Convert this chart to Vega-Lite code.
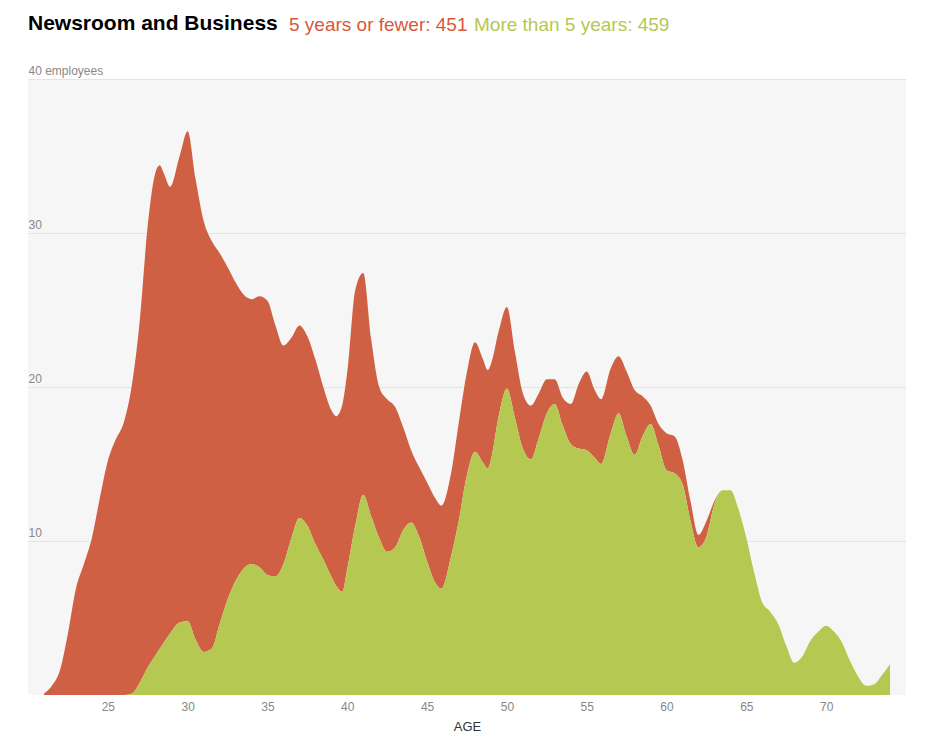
{
  "$schema": "https://vega.github.io/schema/vega-lite/v6.json",
  "width": 878,
  "height": 616,
  "autosize": "none",
  "padding": {"left": 28, "top": 79, "right": 34, "bottom": 59},
  "background": "#ffffff",
  "title": {
    "text": "Newsroom and Business",
    "anchor": "start",
    "frame": "group",
    "font": "Liberation Sans",
    "fontSize": 21,
    "fontWeight": "bold",
    "color": "#000000",
    "offset": 0,
    "dy": 19
  },
  "data": {
    "values": [
      {"age": 21, "fewer5": 0.1, "more5": 0},
      {"age": 21.5, "fewer5": 0.6, "more5": 0},
      {"age": 22, "fewer5": 1.6, "more5": 0},
      {"age": 22.5, "fewer5": 4.0, "more5": 0},
      {"age": 23, "fewer5": 6.9, "more5": 0},
      {"age": 23.5, "fewer5": 8.5, "more5": 0},
      {"age": 24, "fewer5": 10.2, "more5": 0},
      {"age": 24.5, "fewer5": 12.8, "more5": 0},
      {"age": 25, "fewer5": 15.2, "more5": 0},
      {"age": 25.5, "fewer5": 16.6, "more5": 0},
      {"age": 26, "fewer5": 17.7, "more5": 0},
      {"age": 26.5, "fewer5": 20.0, "more5": 0.1},
      {"age": 27, "fewer5": 23.5, "more5": 0.8},
      {"age": 27.5, "fewer5": 28.7, "more5": 1.8},
      {"age": 28, "fewer5": 31.4, "more5": 2.6},
      {"age": 28.25, "fewer5": 31.4, "more5": 3.0},
      {"age": 28.5, "fewer5": 30.5, "more5": 3.4},
      {"age": 28.9, "fewer5": 29.0, "more5": 4.0},
      {"age": 29.5, "fewer5": 30.3, "more5": 4.7},
      {"age": 30, "fewer5": 31.8, "more5": 4.8},
      {"age": 30.5, "fewer5": 29.9, "more5": 3.6},
      {"age": 31, "fewer5": 28.0, "more5": 2.8},
      {"age": 31.5, "fewer5": 26.5, "more5": 3.0},
      {"age": 32, "fewer5": 24.1, "more5": 4.6},
      {"age": 32.5, "fewer5": 21.6, "more5": 6.2},
      {"age": 33, "fewer5": 19.4, "more5": 7.4},
      {"age": 33.5, "fewer5": 17.8, "more5": 8.2},
      {"age": 34, "fewer5": 17.2, "more5": 8.5},
      {"age": 34.5, "fewer5": 17.6, "more5": 8.3},
      {"age": 35, "fewer5": 17.8, "more5": 7.8},
      {"age": 35.5, "fewer5": 16.3, "more5": 7.7},
      {"age": 36, "fewer5": 14.2, "more5": 8.5},
      {"age": 36.5, "fewer5": 13.0, "more5": 10.2},
      {"age": 37, "fewer5": 12.5, "more5": 11.5},
      {"age": 37.5, "fewer5": 12.3, "more5": 11.0},
      {"age": 38, "fewer5": 12.0, "more5": 9.8},
      {"age": 38.5, "fewer5": 11.2, "more5": 8.8},
      {"age": 39, "fewer5": 10.8, "more5": 7.7},
      {"age": 39.3, "fewer5": 11.0, "more5": 7.1},
      {"age": 39.7, "fewer5": 12.2, "more5": 6.7},
      {"age": 40, "fewer5": 12.8, "more5": 8.2},
      {"age": 40.5, "fewer5": 15.3, "more5": 11.0},
      {"age": 41, "fewer5": 14.4, "more5": 13.0},
      {"age": 41.5, "fewer5": 11.5, "more5": 11.6},
      {"age": 42, "fewer5": 9.8, "more5": 10.2},
      {"age": 42.5, "fewer5": 9.9, "more5": 9.3},
      {"age": 43, "fewer5": 9.1, "more5": 9.6},
      {"age": 43.5, "fewer5": 6.7, "more5": 10.7},
      {"age": 44, "fewer5": 4.7, "more5": 11.2},
      {"age": 44.5, "fewer5": 4.5, "more5": 10.3},
      {"age": 45, "fewer5": 5.1, "more5": 8.7},
      {"age": 45.5, "fewer5": 5.5, "more5": 7.3},
      {"age": 45.9, "fewer5": 5.4, "more5": 6.9},
      {"age": 46.5, "fewer5": 5.4, "more5": 9.0},
      {"age": 47, "fewer5": 6.4, "more5": 11.4},
      {"age": 47.5, "fewer5": 6.7, "more5": 14.3},
      {"age": 48, "fewer5": 7.1, "more5": 15.8},
      {"age": 48.5, "fewer5": 6.7, "more5": 15.1},
      {"age": 48.8, "fewer5": 6.4, "more5": 14.7},
      {"age": 49, "fewer5": 6.2, "more5": 15.3},
      {"age": 49.5, "fewer5": 5.5, "more5": 18.2},
      {"age": 50, "fewer5": 5.3, "more5": 19.9},
      {"age": 50.5, "fewer5": 4.3, "more5": 18.0},
      {"age": 51, "fewer5": 3.6, "more5": 16.0},
      {"age": 51.5, "fewer5": 3.5, "more5": 15.3},
      {"age": 52, "fewer5": 2.9, "more5": 16.7},
      {"age": 52.5, "fewer5": 2.2, "more5": 18.3},
      {"age": 53, "fewer5": 1.6, "more5": 18.9},
      {"age": 53.5, "fewer5": 1.8, "more5": 17.5},
      {"age": 54, "fewer5": 2.6, "more5": 16.3},
      {"age": 54.5, "fewer5": 4.2, "more5": 16.0},
      {"age": 55, "fewer5": 5.1, "more5": 15.9},
      {"age": 55.5, "fewer5": 4.4, "more5": 15.4},
      {"age": 55.9, "fewer5": 4.2, "more5": 15.0},
      {"age": 56.5, "fewer5": 4.2, "more5": 17.0},
      {"age": 57, "fewer5": 3.7, "more5": 18.3},
      {"age": 57.5, "fewer5": 4.2, "more5": 16.8},
      {"age": 58, "fewer5": 4.2, "more5": 15.6},
      {"age": 58.5, "fewer5": 2.6, "more5": 16.8},
      {"age": 59, "fewer5": 1.2, "more5": 17.6},
      {"age": 59.5, "fewer5": 1.4, "more5": 16.2},
      {"age": 60, "fewer5": 2.4, "more5": 14.6},
      {"age": 60.5, "fewer5": 2.4, "more5": 14.4},
      {"age": 61, "fewer5": 1.6, "more5": 13.7},
      {"age": 61.5, "fewer5": 1.3, "more5": 11.3},
      {"age": 62, "fewer5": 0.8, "more5": 9.6},
      {"age": 62.5, "fewer5": 1.0, "more5": 10.3},
      {"age": 63, "fewer5": 0.2, "more5": 12.4},
      {"age": 63.5, "fewer5": 0, "more5": 13.3},
      {"age": 64, "fewer5": 0, "more5": 13.3},
      {"age": 64.5, "fewer5": 0, "more5": 12.1},
      {"age": 65, "fewer5": 0, "more5": 10.2},
      {"age": 65.5, "fewer5": 0, "more5": 7.9},
      {"age": 66, "fewer5": 0, "more5": 6.0},
      {"age": 66.5, "fewer5": 0, "more5": 5.4},
      {"age": 67, "fewer5": 0, "more5": 4.6},
      {"age": 67.5, "fewer5": 0, "more5": 3.2},
      {"age": 68, "fewer5": 0, "more5": 2.1},
      {"age": 68.5, "fewer5": 0, "more5": 2.5},
      {"age": 69, "fewer5": 0, "more5": 3.5},
      {"age": 69.5, "fewer5": 0, "more5": 4.1},
      {"age": 70, "fewer5": 0, "more5": 4.5},
      {"age": 70.5, "fewer5": 0, "more5": 4.1},
      {"age": 71, "fewer5": 0, "more5": 3.4},
      {"age": 71.5, "fewer5": 0, "more5": 2.2},
      {"age": 72, "fewer5": 0, "more5": 1.2},
      {"age": 72.5, "fewer5": 0, "more5": 0.6},
      {"age": 73, "fewer5": 0, "more5": 0.7},
      {"age": 73.5, "fewer5": 0, "more5": 1.3},
      {"age": 74, "fewer5": 0, "more5": 2.0}
    ]
  },
  "transform": [
    {"fold": ["fewer5", "more5"], "as": ["tenure", "employees"]}
  ],
  "mark": {"type": "area", "interpolate": "monotone"},
  "encoding": {
    "x": {
      "field": "age",
      "type": "quantitative",
      "scale": {"domain": [20, 75], "nice": false, "zero": false},
      "axis": {
        "title": "AGE",
        "values": [25, 30, 35, 40, 45, 50, 55, 60, 65, 70],
        "grid": false,
        "domain": false,
        "ticks": false,
        "tickSize": 0,
        "labelPadding": 6,
        "labelFont": "Liberation Sans",
        "labelFontSize": 12,
        "labelColor": "#888888",
        "titleFont": "Liberation Sans",
        "titleFontSize": 13,
        "titleFontWeight": "normal",
        "titleColor": "#333333",
        "titlePadding": 8
      }
    },
    "y": {
      "field": "employees",
      "type": "quantitative",
      "stack": "zero",
      "scale": {"domain": [0, 40], "nice": false},
      "axis": {
        "title": null,
        "values": [10, 20, 30, 40],
        "labelExpr": "datum.value == 40 ? '40 employees' : datum.label",
        "grid": true,
        "gridColor": "#e4e4e4",
        "gridWidth": 1,
        "domain": false,
        "ticks": false,
        "tickSize": 0,
        "labelPadding": 0,
        "labelAlign": "left",
        "labelBaseline": "alphabetic",
        "labelOffset": -5,
        "labelFont": "Liberation Sans",
        "labelFontSize": 12,
        "labelColor": "#888888"
      }
    },
    "color": {
      "field": "tenure",
      "type": "nominal",
      "scale": {"domain": ["fewer5", "more5"], "range": ["#d06043", "#b5c852"]},
      "legend": {
        "title": null,
        "orient": "none",
        "direction": "horizontal",
        "legendX": 260,
        "legendY": -64,
        "padding": 0,
        "symbolSize": 1,
        "symbolOpacity": 0,
        "symbolStrokeWidth": 0,
        "labelOffset": -18,
        "columnPadding": 5,
        "labelFont": "Liberation Sans",
        "labelFontSize": 19,
        "labelLimit": 0,
        "labelExpr": "datum.value == 'fewer5' ? '5 years or fewer: 451' : 'More than 5 years: 459'",
        "labelColor": {"expr": "datum.value == 'fewer5' ? '#d9583c' : '#b5c852'"}
      }
    },
    "order": {"field": "tenure", "sort": "descending"}
  },
  "config": {
    "view": {"fill": "#f6f6f6", "stroke": null}
  }
}
